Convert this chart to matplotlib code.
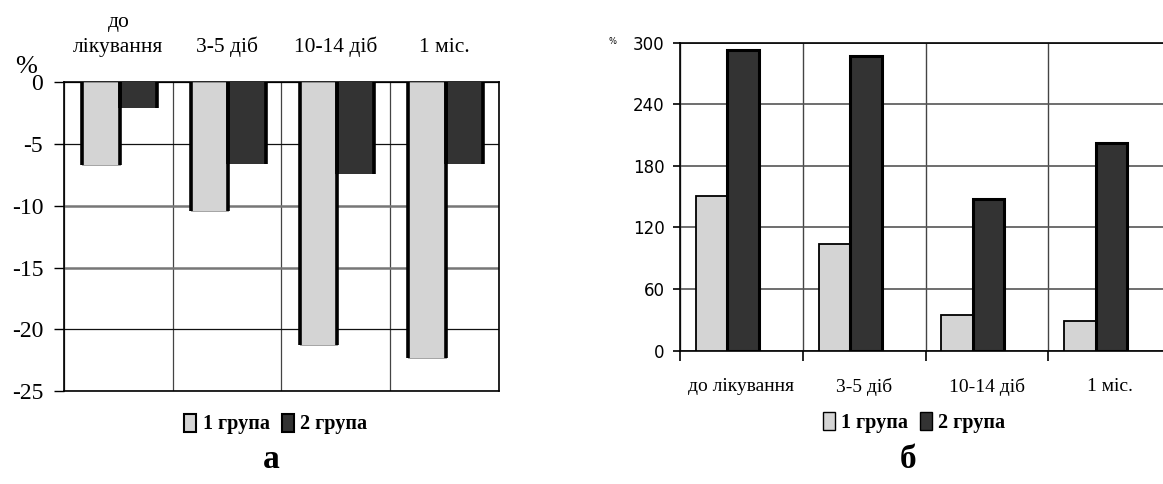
import matplotlib
matplotlib.use("Agg")
import matplotlib.pyplot as plt
from matplotlib.patches import Patch

# data
periods_a = ["до\nлікування", "3-5 діб", "10-14 діб", "1 міс."]
group1_a = [-6.7, -10.4, -21.3, -22.3]
group2_a = [-2.1, -6.6, -7.4, -6.6]

periods_b = ["до лікування", "3-5 діб", "10-14 діб", "1 міс."]
group1_b = [151, 104, 35, 29]
group2_b = [293, 287, 148, 202]
yticks_b = [0, 60, 120, 180, 240, 300]
yticks_a = [0, -5, -10, -15, -20, -25]

legend_labels = ["1 група", "2 група"]
light, dark = "#d4d4d4", "#333333"
serif = "Liberation Serif"

fig = plt.figure(figsize=(11.63, 4.84), dpi=100)

# ---------------- chart a ----------------
ax1 = fig.add_axes([0.0550, 0.1921, 0.3740, 0.6378])
n = len(periods_a)
x = list(range(n))
w = 0.343
x1 = [i + 0.168 for i in x]
x2 = [i + 0.168 + w for i in x]
ax1.bar(x1, group1_a, width=w, align="edge", color=light, edgecolor="#999999", linewidth=0.6, zorder=3)
ax1.bar(x2, group2_a, width=w, align="edge", color=dark, edgecolor="none", zorder=3)
# thick black side edges of the bars
for xs, vals in ((x1, group1_a), (x2, group2_a)):
    edges = [e for xi in xs for e in (xi, xi + w)]
    tops = [v for v in vals for _ in (0, 1)]
    ax1.vlines(edges, tops, 0, colors="black", linewidth=2.6, zorder=4)

ax1.set_xlim(0, n)
ax1.set_ylim(-25, 0)
ax1.set_yticks(yticks_a)
ax1.set_yticklabels([str(t) for t in yticks_a], fontsize=17, family=serif)
ax1.set_xticks(range(n + 1))
ax1.set_xticklabels([])
ax1.set_xticks([i + 0.5 for i in x], minor=True)
ax1.set_xticklabels(periods_a, minor=True, fontsize=15.5, family=serif, linespacing=1.45)
ax1.xaxis.tick_top()
ax1.tick_params(axis="x", which="both", length=0, pad=18)
ax1.tick_params(axis="y", length=7, width=1, direction="out", pad=8)
ax1.grid(True, axis="y", zorder=1)
# grid lines alternate between thin black and thicker grey in the reference
for t, gl in zip(ax1.get_yticks(), ax1.get_ygridlines()):
    if t in (-10, -15):
        gl.set_color("#777777")
        gl.set_linewidth(1.8)
    else:
        gl.set_color("#111111")
        gl.set_linewidth(0.9)
ax1.grid(True, axis="x", which="major", color="#444444", linewidth=0.9, zorder=1)
for s in ax1.spines.values():
    s.set_color("black")
    s.set_linewidth(1.2)
fig.text(0.022, 0.862, "%", fontsize=19, family=serif, ha="center", va="center")

handles_a = [Patch(facecolor=light, edgecolor="black", linewidth=1.5),
             Patch(facecolor=dark, edgecolor="black", linewidth=1.5)]
fig.legend(handles_a, legend_labels, loc="center", bbox_to_anchor=(0.237, 0.124), ncol=2,
           frameon=False, handlelength=0.6, handleheight=1.0, handletextpad=0.3,
           columnspacing=0.6, prop={"family": serif, "weight": "bold", "size": 14.5})
fig.text(0.233, 0.05, "а", fontsize=24, family=serif, weight="bold", ha="center", va="center")

# ---------------- chart б ----------------
ax2 = fig.add_axes([0.5847, 0.2754, 0.4222, 0.6364])
wb = 0.256
xb1 = [i + 0.13 for i in x]
xb2 = [i + 0.13 + wb for i in x]
ax2.bar(xb1, group1_b, width=wb, align="edge", color=light, edgecolor="black", linewidth=1.3, zorder=3)
ax2.bar(xb2, group2_b, width=wb, align="edge", color=dark, edgecolor="black", linewidth=2.2, zorder=3)
ax2.set_xlim(0, n)
ax2.set_ylim(0, 300)
ax2.set_yticks(yticks_b)
ax2.set_yticklabels([str(t) for t in yticks_b], fontsize=12, family="DejaVu Sans")
ax2.set_xticks(range(n + 1))
ax2.set_xticklabels([])
ax2.set_xticks([i + 0.5 for i in x], minor=True)
ax2.set_xticklabels(periods_b, minor=True, fontsize=14, family=serif)
ax2.tick_params(axis="x", which="major", length=7, width=1.2, direction="out")
ax2.tick_params(axis="x", which="minor", length=0, pad=20)
ax2.tick_params(axis="y", length=5, width=1.2, direction="out", pad=6)
ax2.grid(True, axis="y", color="#555555", linewidth=1.2, zorder=1)
ax2.grid(True, axis="x", which="major", color="#444444", linewidth=1, zorder=1)
for side in ("top", "bottom", "left"):
    ax2.spines[side].set_color("black")
    ax2.spines[side].set_linewidth(1.2)
ax2.spines["right"].set_visible(False)
fig.text(0.527, 0.915, "%", fontsize=6, family="DejaVu Sans", ha="center", va="center")

handles_b = [Patch(facecolor=light, edgecolor="black", linewidth=1.0),
             Patch(facecolor=dark, edgecolor="black", linewidth=1.0)]
fig.legend(handles_b, legend_labels, loc="center", bbox_to_anchor=(0.786, 0.127), ncol=2,
           frameon=False, handlelength=0.6, handleheight=1.0, handletextpad=0.3,
           columnspacing=0.6, prop={"family": serif, "weight": "bold", "size": 14.5})
fig.text(0.781, 0.05, "б", fontsize=24, family=serif, weight="bold", ha="center", va="center")

fig.savefig("out.png", dpi=100)
